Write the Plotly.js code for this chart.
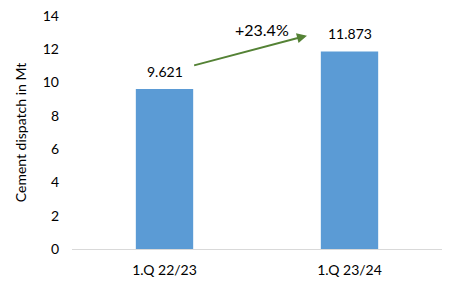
<!DOCTYPE html>
<html>
<head>
<meta charset="utf-8">
<script src="https://cdn.plot.ly/plotly-3.0.1.min.js"></script>
<style>html,body{margin:0;padding:0;background:#fff;}#chart{width:456px;height:288px;}</style>
</head>
<body>
<div id="chart"></div>
<script>
const categories = ["1.Q 22/23", "1.Q 23/24"];
const dispatch = [9.621, 11.873];
const labels = ["9.621", "11.873"];
const growthLabel = "+23.4%";
const yTicks = [0, 2, 4, 6, 8, 10, 12, 14];

const font = {family: "Lato, 'Open Sans', sans-serif", size: 14, color: "#000"};

const trace = {
  type: "bar",
  x: [0, 1],
  y: dispatch,
  width: 0.31,
  marker: {color: "#5B9BD5"},
  hoverinfo: "skip"
};

const valueAnnotations = dispatch.map((v, i) => ({
  xref: "x", yref: "y", x: i, y: v,
  text: labels[i], showarrow: false,
  yanchor: "bottom", yshift: 7,
  font: {family: font.family, size: 14, color: "#000"}
}));

const layout = {
  width: 456, height: 288,
  margin: {l: 72, r: 14, t: 16, b: 39},
  paper_bgcolor: "#fff", plot_bgcolor: "#fff",
  font: font,
  showlegend: false,
  xaxis: {
    range: [-0.5, 1.5],
    tickvals: [0, 1],
    ticktext: categories,
    showgrid: false, zeroline: false, showline: true,
    linecolor: "#d9d9d9", linewidth: 1,
    ticks: "", ticklabelstandoff: 8,
    tickfont: {family: font.family, size: 14, color: "#000"},
    fixedrange: true
  },
  yaxis: {
    range: [0, 14],
    tickvals: yTicks,
    showgrid: false, zeroline: false, showline: false,
    ticks: "", ticklabelstandoff: 12,
    tickfont: {family: font.family, size: 14, color: "#000"},
    title: {text: "Cement dispatch in Mt", standoff: 12, font: {family: font.family, size: 14, color: "#000"}},
    fixedrange: true
  },
  annotations: valueAnnotations.concat([
    {
      xref: "x", yref: "y", axref: "x", ayref: "y",
      x: 0.77, y: 12.82, ax: 0.152, ay: 11.01,
      text: "", showarrow: true, arrowhead: 2, arrowsize: 1,
      arrowwidth: 2, arrowcolor: "#548235"
    },
    {
      xref: "x", yref: "y",
      x: 0.527, y: 13.16,
      text: growthLabel, showarrow: false,
      font: {family: font.family, size: 16, color: "#000"}
    }
  ])
};

Plotly.newPlot("chart", [trace], layout, {displayModeBar: false, staticPlot: true});
</script>
</body>
</html>
